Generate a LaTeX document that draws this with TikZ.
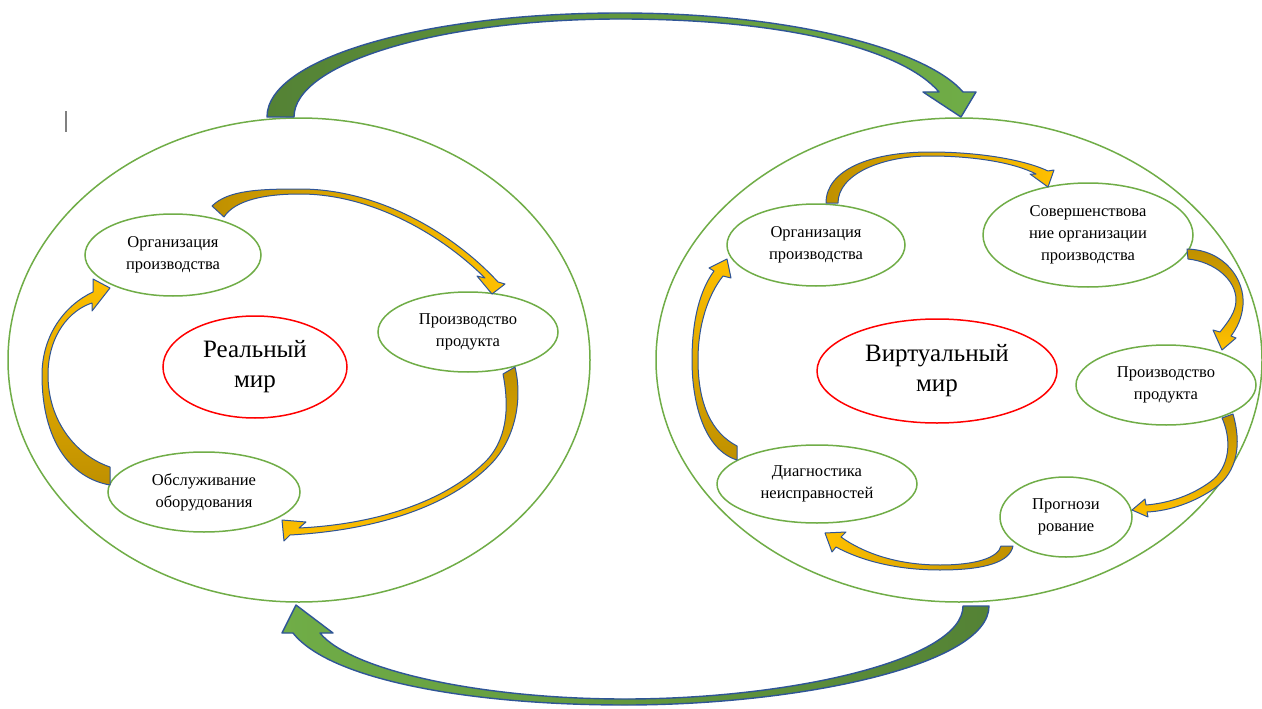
\documentclass[tikz,border=0pt]{standalone}
\usepackage{fontspec}
\setmainfont{Liberation Serif}
\usepackage{tikz}
\usetikzlibrary{shapes.geometric}
\definecolor{kgreen}{HTML}{70AD47}
\definecolor{kdkgreen}{HTML}{548235}
\definecolor{kgold}{HTML}{FFC000}
\definecolor{kdkgold}{HTML}{BF9000}
\definecolor{kline}{HTML}{2F5597}
\definecolor{kred}{HTML}{FF0000}

\tikzset{
  world/.style={ellipse, draw=kgreen, line width=1.5pt, inner sep=0pt},
  stage/.style={ellipse, draw=kgreen, line width=1.5pt, inner sep=0pt, align=center,
    font=\fontsize{16.5}{22}\selectfont},
  core/.style={ellipse, draw=kred, line width=1.5pt, inner sep=0pt, align=center,
    font=\fontsize{25}{30}\selectfont},
  bigarrow/.style={draw=kline, line width=1.4pt, line join=round},
  smallarrow/.style={draw=kline, line width=1pt, line join=round}
}

\begin{document}
\begin{tikzpicture}[x=1pt, y=-1pt]
\useasboundingbox (0,0) rectangle (1262,709);
\fill[white] (0,0) rectangle (1262,709);
\draw[gray, line width=1.2pt] (66,111) -- (66,132);

\node[world, minimum width=582pt, minimum height=484pt] (realBig) at (299,360) {};
\node[world, minimum width=606pt, minimum height=484pt] (virtBig) at (959,360) {};

% real world
\node[core, minimum width=184pt, minimum height=102pt] (realW) at (255,367) {Реальный\\мир};
\node[stage, minimum width=176pt, minimum height=82pt] (orgL) at (173,255) {Организация\\производства};
\node[stage, minimum width=180pt, minimum height=80pt] (prodL) at (468,332) {Производство\\продукта};
\node[stage, minimum width=192pt, minimum height=80pt] (servL) at (204,492) {Обслуживание\\оборудования};

% virtual world
\node[core, minimum width=240pt, minimum height=104pt] (virtW) at (937,371) {Виртуальный\\мир};
\node[stage, minimum width=178pt, minimum height=82pt] (orgR) at (816,245) {Организация\\производства};
\node[stage, minimum width=210pt, minimum height=104pt] (improveR) at (1088,235) {Совершенствова\\ние организации\\производства};
\node[stage, minimum width=180pt, minimum height=80pt] (prodR) at (1166,385) {Производство\\продукта};
\node[stage, minimum width=132pt, minimum height=80pt] (forecastR) at (1066,517) {Прогнози\\рование};
\node[stage, minimum width=200pt, minimum height=78pt] (diagR) at (817,484) {Диагностика\\неисправностей};

% green arrows between worlds
\path[bigarrow, left color=kdkgreen, right color=kgreen]
  (267,117) .. controls (267,58) and (425,13) .. (620,13)
  .. controls (800,13) and (929,52) .. (963,92) -- (976,92) -- (961,117) -- (923,92) -- (939,92)
  .. controls (905,52) and (795,19) .. (620,19)
  .. controls (440,19) and (294,63) .. (294,117) -- cycle;
\path[bigarrow, left color=kgreen, right color=kdkgreen]
  (963,606) -- (989,606) .. controls (989,665) and (800,705) .. (625,705)
  .. controls (470,705) and (330,680) .. (293,633) -- (282,633) -- (296,605) -- (333,633) -- (320,633)
  .. controls (350,670) and (480,699) .. (625,699)
  .. controls (790,699) and (963,660) .. (963,606) -- cycle;

% cycle of the real world
\path[smallarrow, left color=kdkgold, right color=kgold]
  (212,206) .. controls (228,190) and (260,189) .. (300,189)
  .. controls (380,189) and (455,235) .. (498,282) -- (505,284) -- (492,294) -- (477,276) -- (485,278)
  .. controls (445,238) and (375,194) .. (300,194)
  .. controls (265,194) and (235,200) .. (224,217) -- cycle;
\path[smallarrow, top color=kdkgold, bottom color=kgold]
  (503,374) -- (515,367) .. controls (523,400) and (515,440) .. (490,465)
  .. controls (450,505) and (380,530) .. (290,535) -- (284,541) -- (282,520) -- (306,522) -- (299,528)
  .. controls (380,524) and (448,500) .. (487,460)
  .. controls (510,435) and (508,400) .. (503,374) -- cycle;
\path[smallarrow, top color=kgold, bottom color=kdkgold]
  (110,485) -- (110,467) .. controls (75,455) and (48,420) .. (48,375)
  .. controls (48,335) and (70,310) .. (92,303) -- (92,311) -- (110,288) -- (93,279) -- (93,292)
  .. controls (65,305) and (42,335) .. (42,375)
  .. controls (42,440) and (70,478) .. (110,485) -- cycle;

% cycle of the virtual world
\path[smallarrow, left color=kdkgold, right color=kgold]
  (826,203) .. controls (826,170) and (870,152) .. (930,152)
  .. controls (980,152) and (1025,160) .. (1048,171) -- (1054,170) -- (1048,187) -- (1030,174) -- (1036,174)
  .. controls (1015,163) and (975,156) .. (930,156)
  .. controls (880,156) and (838,175) .. (838,203) -- cycle;
\path[smallarrow, top color=kdkgold, bottom color=kgold]
  (1187,249) .. controls (1225,250) and (1245,280) .. (1243,305)
  .. controls (1242,318) and (1237,328) .. (1231,336) -- (1236,338) -- (1222,350) -- (1213,330) -- (1220,332)
  .. controls (1228,322) and (1236,312) .. (1236,300)
  .. controls (1236,280) and (1215,262) .. (1188,259) -- cycle;
\path[smallarrow, top color=kdkgold, bottom color=kgold]
  (1222,418) -- (1233,414) .. controls (1242,445) and (1237,472) .. (1215,488)
  .. controls (1195,502) and (1170,511) .. (1147,512) -- (1148,517) -- (1132,510) -- (1145,499) -- (1146,505)
  .. controls (1170,503) and (1192,495) .. (1210,482)
  .. controls (1230,468) and (1232,440) .. (1222,418) -- cycle;
\path[smallarrow, left color=kgold, right color=kdkgold]
  (1001,546) -- (1013,546) .. controls (1010,562) and (985,570) .. (940,570)
  .. controls (895,570) and (860,560) .. (836,547) -- (832,552) -- (825,533) -- (846,532) -- (841,537)
  .. controls (862,552) and (895,565) .. (940,565)
  .. controls (975,565) and (998,558) .. (1001,546) -- cycle;
\path[smallarrow, top color=kgold, bottom color=kdkgold]
  (737,460) .. controls (705,450) and (692,405) .. (692,360)
  .. controls (692,320) and (700,290) .. (714,271) -- (709,268) -- (727,259) -- (731,278) -- (723,276)
  .. controls (708,295) and (698,325) .. (698,360)
  .. controls (698,405) and (712,433) .. (737,446) -- cycle;
\end{tikzpicture}
\end{document}
